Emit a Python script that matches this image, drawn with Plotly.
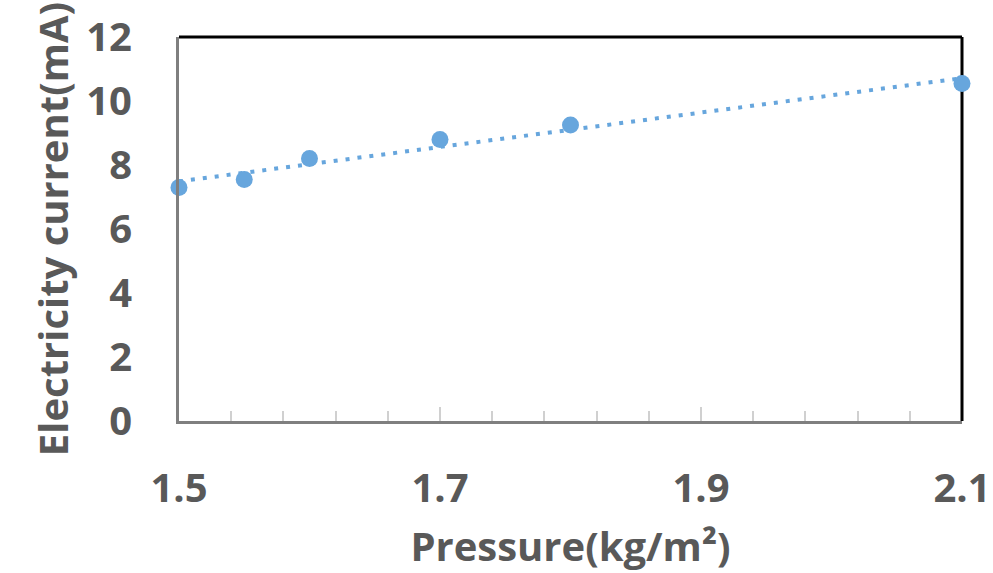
import numpy as np
import plotly.graph_objects as go

pressure = [1.5, 1.55, 1.6, 1.7, 1.8, 2.1]
current = [7.3, 7.55, 8.2, 8.8, 9.25, 10.55]
x_ticks = [1.5, 1.7, 1.9, 2.1]
x_tick_labels = ["1.5", "1.7", "1.9", "2.1"]
y_ticks = [0, 2, 4, 6, 8, 10, 12]

slope, intercept = np.polyfit(pressure, current, 1)
trend_x = [1.5, 2.1]
trend_y = [slope * v + intercept for v in trend_x]

blue = "#67a6dd"
grey_text = "#595959"
font_family = "Open Sans"

fig = go.Figure()
fig.add_trace(go.Scatter(
    x=trend_x, y=trend_y, mode="lines",
    line=dict(color=blue, width=4, dash="4px,8px"),
    hoverinfo="skip", showlegend=False, cliponaxis=False,
))
fig.add_trace(go.Scatter(
    x=pressure, y=current, mode="markers",
    marker=dict(color=blue, size=17),
    showlegend=False, cliponaxis=False,
))

fig.update_layout(
    width=993, height=573,
    margin=dict(l=179, r=31, t=37, b=152, autoexpand=False),
    paper_bgcolor="white", plot_bgcolor="white",
    font=dict(family=font_family, color=grey_text, size=40, weight="bold"),
    shapes=[
        dict(type="line", xref="paper", yref="paper", x0=0, x1=1, y0=1, y1=1,
             line=dict(color="black", width=3), layer="below"),
        dict(type="line", xref="paper", yref="paper", x0=1, x1=1, y0=0, y1=1,
             line=dict(color="black", width=3), layer="below"),
    ],
)

fig.update_xaxes(
    range=[1.5, 2.1], tickmode="array", tickvals=x_ticks, ticktext=x_tick_labels,
    showgrid=False, zeroline=False,
    showline=True, linecolor="#7f7f7f", linewidth=3,
    ticks="inside", ticklen=14, tickwidth=2, tickcolor="#d0d0d0",
    minor=dict(tick0=1.5, dtick=0.04, ticks="inside", ticklen=10, tickwidth=2,
               tickcolor="#d0d0d0", showgrid=False),
    ticklabelstandoff=30,
    tickfont=dict(family=font_family, size=40, color=grey_text, weight="bold"),
    title=dict(text="Pressure(kg/m²)", standoff=28,
               font=dict(family=font_family, size=40, color=grey_text, weight="bold")),
)
fig.update_yaxes(
    range=[0, 12], tickmode="array", tickvals=y_ticks,
    showgrid=False, zeroline=False,
    showline=True, linecolor="#7f7f7f", linewidth=3,
    ticks="",
    ticklabelstandoff=36,
    tickfont=dict(family=font_family, size=40, color=grey_text, weight="bold"),
    title=dict(text="Electricity current(mA)", standoff=6,
               font=dict(family=font_family, size=40, color=grey_text, weight="bold")),
)

fig.write_html("out.html")
